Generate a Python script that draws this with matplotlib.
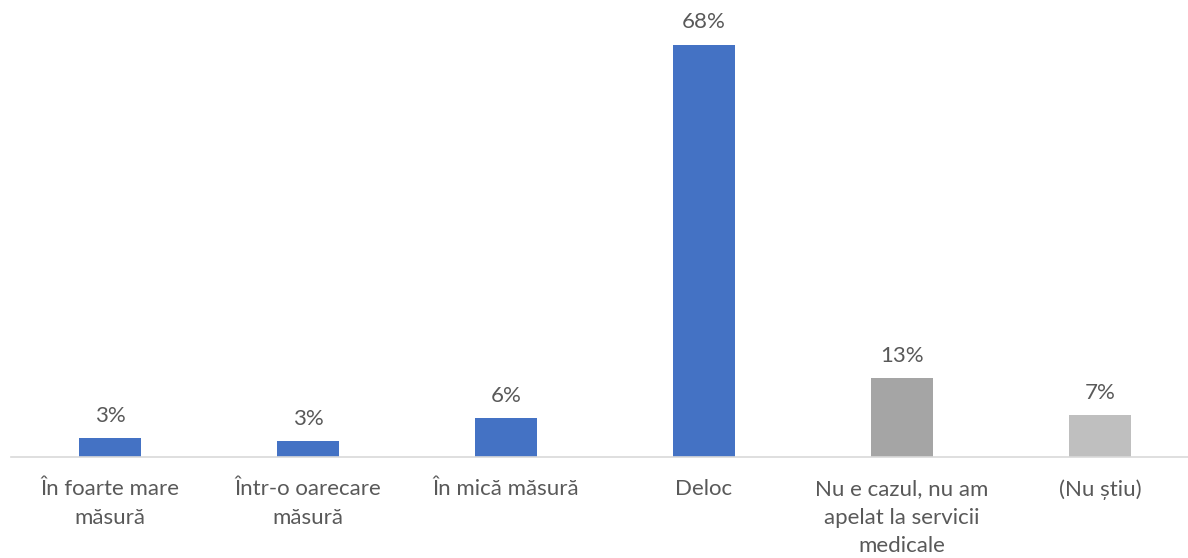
import matplotlib
matplotlib.use("Agg")
import matplotlib.pyplot as plt

categories = [
    "În foarte mare\nmăsură",
    "Într-o oarecare\nmăsură",
    "În mică măsură",
    "Deloc",
    "Nu e cazul, nu am\napelat la servicii\nmedicale",
    "(Nu știu)",
]
values = [3.1, 2.6, 6.4, 68, 13, 6.9]
colors = ["#4472C4", "#4472C4", "#4472C4", "#4472C4", "#A5A5A5", "#BFBFBF"]

plt.rcParams["font.family"] = ["Lato", "DejaVu Sans"]
text_color = "#595959"

fig = plt.figure(figsize=(11.88, 5.58), dpi=100)
# axes: baseline at y=457px, categories 198px wide starting at x=11
ax = fig.add_axes([11 / 1188, 101 / 558, 1177 / 1188, 457 / 558])

x = list(range(len(categories)))
bars = ax.bar(x, values, width=0.313, color=colors)

for b, v in zip(bars, values):
    ax.annotate(f"{round(v)}%", (b.get_x() + b.get_width() / 2, v),
                xytext=(0, 9), textcoords="offset points",
                ha="center", va="bottom", fontsize=16, color=text_color)

ax.set_xlim(-0.5, 5.5 - 11 / 198)
ax.set_ylim(0, 68 * 457 / 412)
ax.set_xticks(x)
ax.set_xticklabels(categories, fontsize=16, color=text_color, linespacing=1.52, va="top")
ax.tick_params(axis="x", length=0, pad=16)
ax.set_yticks([])
for side in ["top", "right", "left"]:
    ax.spines[side].set_visible(False)
ax.spines["bottom"].set_color("#D9D9D9")
ax.spines["bottom"].set_linewidth(1.2)

fig.savefig("out.png", dpi=100)
